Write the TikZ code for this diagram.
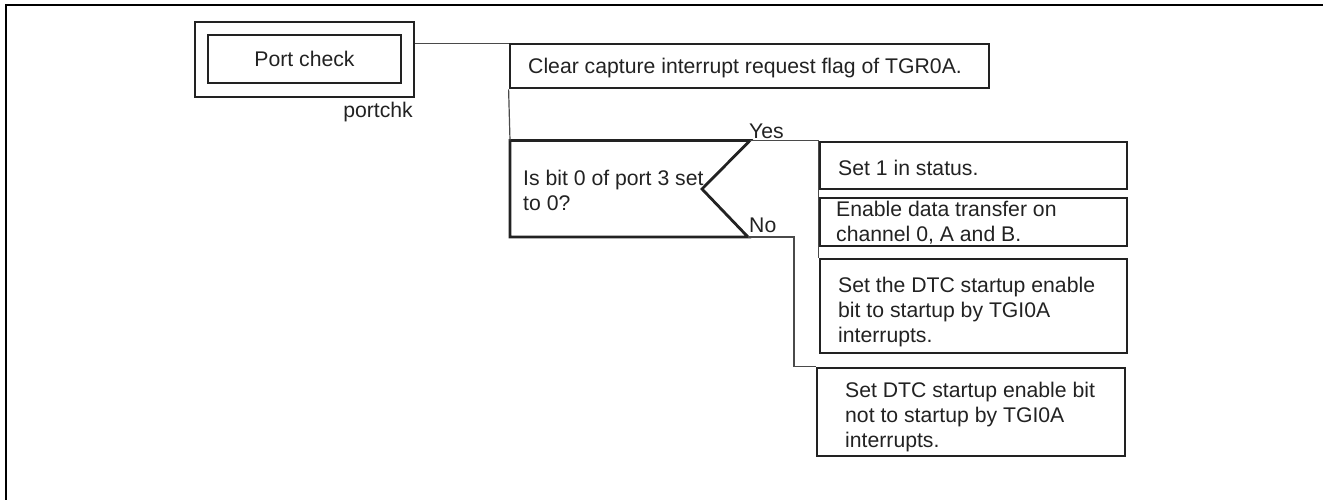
\documentclass[tikz,border=0pt]{standalone}
\usepackage{fontspec}
\setmainfont{Liberation Sans}
\newcommand\myfs{\fontsize{21.2}{25}\selectfont}
\newcommand\topst{\rule{0pt}{16pt}}
\definecolor{boxc}{HTML}{222222}
\definecolor{textc}{HTML}{222222}
\definecolor{connc}{HTML}{4A4A4A}
\tikzset{
  frame/.style={line width=2.4pt, draw=black},
  boxn/.style={draw=boxc, line width=2.8pt, rectangle, inner sep=0pt},
  conn/.style={draw=connc, line width=1.2pt},
  txt/.style={anchor=north west, inner sep=0pt, align=left, font=\myfs, text=textc},
}
\begin{document}
\begin{tikzpicture}[x=1pt,y=-1pt]
\useasboundingbox (0,0) rectangle (1323,500);
% frame
\draw[frame] (6,502) -- (6,5) -- (1325,5);
% Port check
\node[boxn, minimum width=219pt, minimum height=75pt] (portout) at (304.5,59.5) {};
\node[boxn, minimum width=193pt, minimum height=48pt, font=\myfs, text=textc] (portin) at (304.5,59) {Port check};
\node[txt, anchor=north east] (portlbl) at (413,101) {\topst portchk};
% Clear box
\node[boxn, minimum width=479pt, minimum height=44pt] (clear) at (749.5,66) {};
\node[txt] (cleartxt) at (528,57) {\topst Clear capture interrupt request flag of TGR0A.};
% Decision
\coordinate (dtl) at (510,140.5);
\coordinate (dy) at (750,140.5);
\coordinate (dtip) at (702,189);
\coordinate (dn) at (748,237);
\coordinate (dbl) at (510,237);
\draw[draw=boxc, line width=2.8pt, line join=miter] (dtl) -- (dy) -- (dtip) -- (dn) -- (dbl) -- cycle;
\node[txt] (dectxt) at (523,169) {\topst Is bit 0 of port 3 set\\to 0?};
\node[txt] (yes) at (749,122) {\topst Yes};
\node[txt] (no) at (749,216) {\topst No};
% Yes branch boxes
\node[boxn, minimum width=307pt, minimum height=47pt] (set1) at (973.5,165.5) {};
\node[txt] (set1txt) at (838,159) {\topst Set 1 in status.};
\node[boxn, minimum width=307pt, minimum height=48pt] (enable) at (973.5,222) {};
\node[txt] (enabletxt) at (836,200) {\topst Enable data transfer on\\channel 0, A and B.};
\node[boxn, minimum width=307pt, minimum height=94pt] (setdtc) at (973.5,306) {};
\node[txt] (setdtctxt) at (838,276) {\topst Set the DTC startup enable\\bit to startup by TGI0A\\interrupts.};
% No branch box
\node[boxn, minimum width=308pt, minimum height=88pt] (notdtc) at (971,412) {};
\node[txt] (notdtctxt) at (845,381) {\topst Set DTC startup enable bit\\not to startup by TGI0A\\interrupts.};
% connectors
\draw[conn] ([yshift=-23pt]portout.north east) coordinate (p1) -- (p1 -| clear.west);
\draw[conn] (clear.south west) -- (dtl);
\draw[conn] (dy) -- (dy -| set1.west) -- (setdtc.north west);
\draw[conn] (dn) -- ++(46,0) |- (notdtc.north west);
\end{tikzpicture}
\end{document}
